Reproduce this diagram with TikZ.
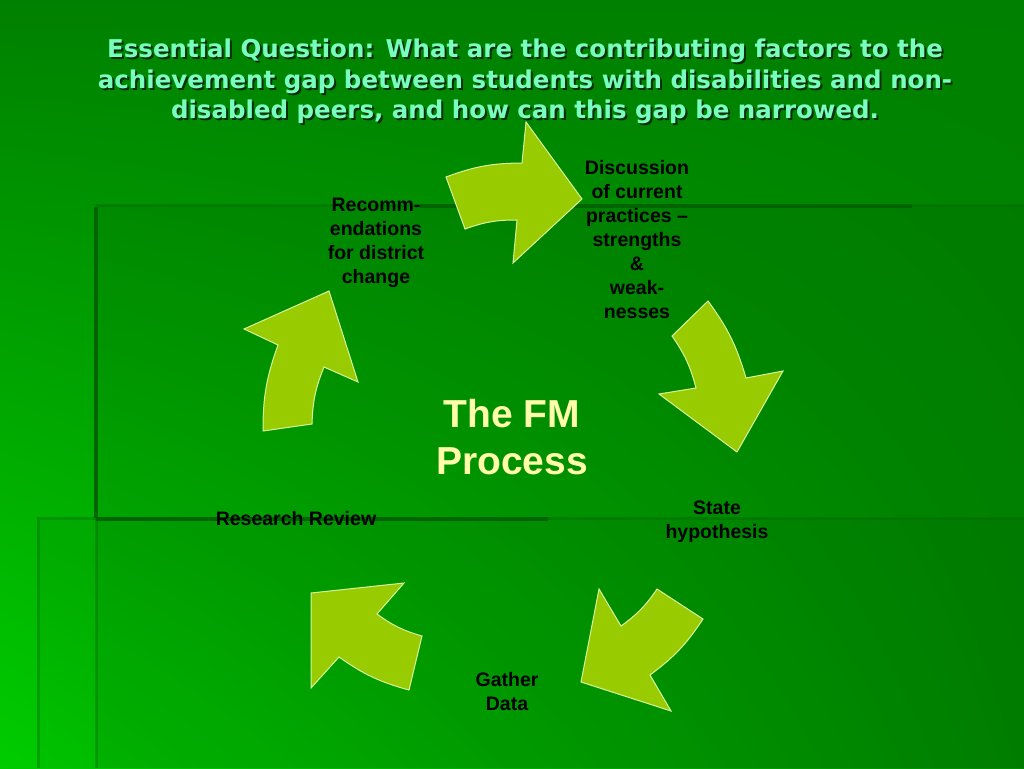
\documentclass[tikz,border=0pt]{standalone}
\usepackage{fontspec}
\setmainfont{Liberation Sans}
\newfontfamily\headfont{DejaVu Sans}
\usetikzlibrary{positioning,shadings}
\definecolor{bggreen}{RGB}{0,128,0}
\definecolor{bglight}{RGB}{0,204,0}
\definecolor{bgmid}{RGB}{0,140,0}
\definecolor{arrowgreen}{RGB}{153,204,0}
\definecolor{rimgreen}{RGB}{214,245,160}
\definecolor{titlegreen}{RGB}{120,255,190}
\definecolor{shadowgreen}{RGB}{15,45,15}
\definecolor{fmyellow}{RGB}{255,255,170}
\definecolor{rulegreen}{RGB}{0,100,0}

\begin{document}
\begin{tikzpicture}[x=1pt,y=-1pt,
    loopstep/.style={fill=arrowgreen,draw=rimgreen,line width=1pt},
    stage/.style={align=center,inner sep=0pt,font=\fontsize{19.5}{24}\selectfont\bfseries},
    titletext/.style={align=center,inner sep=0pt,font=\headfont\fontsize{24.5}{30.8}\selectfont\bfseries},
    rule/.style={draw=rulegreen,line width=4pt},
    faintrule/.style={draw=rulegreen,opacity=0.35,line width=3pt}]

\useasboundingbox (0,0) rectangle (1024,768);
\shade[upper left=bggreen,upper right=bggreen,lower left=bglight,lower right=bgmid]
  (0,0) rectangle (1024,768);

% panels behind the cycle
\fill[black,opacity=0.06] (96,205) rectangle (1024,768);
\fill[black,opacity=0.04] (37,518) rectangle (1024,768);
\draw[faintrule] (96,205) -- (1024,205) (96,205) -- (96,768);
\draw[faintrule] (37,518) -- (1024,518) (38,518) -- (38,768);
\draw[rule] (420,206) -- (912,206);
\draw[rule] (96,207) -- (96,518);
\draw[rule] (96,519) -- (548,519);

% the five arrows
\draw[loopstep] (446,177) to[bend left=10] (522,163) -- (526,122) -- (582,199)
  -- (513,263) -- (517,220) to[bend right=10] (465,229) -- cycle;
\draw[loopstep] (708,301) to[bend left=10] (746,378) -- (783,371) -- (737,452)
  -- (659,394) -- (696,388) to[bend right=10] (672,336) -- cycle;
\draw[loopstep] (703,619) to[bend left=10] (650,675) -- (671,711) -- (581,682)
  -- (599,589) -- (621,626) to[bend right=10] (657,589) -- cycle;
\draw[loopstep] (409,690) to[bend left=10] (339,657) -- (311,688) -- (311,593)
  -- (404,583) -- (377,614) to[bend right=10] (422,636) -- cycle;
\draw[loopstep] (263,431) to[bend left=10] (278,345) -- (244,329) -- (329,291)
  -- (358,382) -- (324,367) to[bend right=10] (312,424) -- cycle;

\node[titletext,text=shadowgreen] (titleshadow) at (527,83.5)
  {Essential Question: What are the contributing factors to the\\achievement gap between students with disabilities and non-\\disabled peers, and how can this gap be narrowed.};
\node[titletext,text=titlegreen] (title) at (525,81.5)
  {Essential Question: What are the contributing factors to the\\achievement gap between students with disabilities and non-\\disabled peers, and how can this gap be narrowed.};

\node[align=center,inner sep=0pt,text=fmyellow,font=\fontsize{39}{47.3}\selectfont\bfseries]
  (fm) at (512,437) {The FM\\Process};

\node[stage] (discuss)    at (637,240) {Discussion\\of current\\practices –\\strengths\\\&\\weak-\\nesses};
\node[stage] (hypothesis) at (717,522) {State\\hypothesis};
\node[stage] (gather)     at (507,692) {Gather\\Data};
\node[stage] (review)     at (296,519) {Research Review};
\node[stage] (recommend)  at (376,243) {Recomm-\\endations\\for district\\change};

\end{tikzpicture}
\end{document}
